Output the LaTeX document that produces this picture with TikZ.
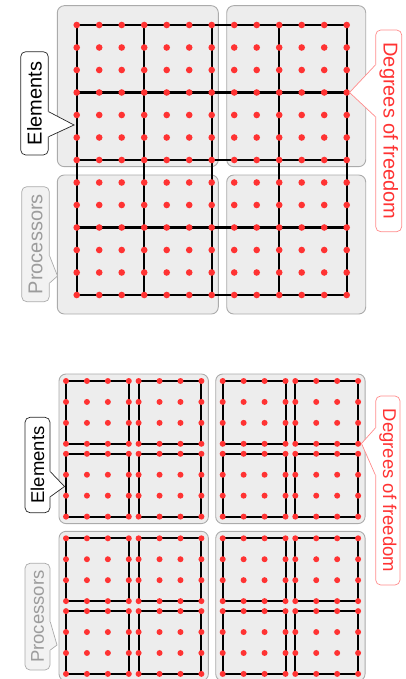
\documentclass[tikz,border=0pt]{standalone}
\usepackage{graphicx}
\usepackage{fontspec}
\setmainfont{Liberation Sans}
\usepackage{tikz}
\usetikzlibrary{calc}
\usepackage{xcolor}
\definecolor{procfill}{HTML}{EDEDED}
\definecolor{procline}{HTML}{ABABAB}
\definecolor{proctext}{HTML}{9C9C9C}
\definecolor{dofred}{HTML}{FF3333}
\definecolor{doflight}{HTML}{FF8C8C}

\newcommand{\calloutptr}[7]{%
  \fill[#6] ($(#1)+(#5,#2)$) -- ($(#1)+(0,#2)$) -- (#4) -- ($(#1)+(0,#3)$) -- ($(#1)+(#5,#3)$) -- cycle;
  \draw[#7, line width=0.7pt, line join=miter] ($(#1)+(0,#2)$) -- (#4) -- ($(#1)+(0,#3)$);
}

\begin{document}
\begin{tikzpicture}[
    x=1pt, y=-1pt,
    procBox/.style={fill=procfill, draw=procline, line width=0.9pt, rounded corners=7pt},
    mesh/.style={black, line width=2.2pt, line cap=rect},
    meshB/.style={black, line width=2pt, line cap=rect},
    dof/.style={fill=dofred},
    lblElem/.style={draw=black!85, fill=white, rounded corners=5pt, inner sep=0pt, line width=0.7pt},
    lblProc/.style={draw=procline, fill=procfill!70!white, text=proctext, rounded corners=5pt, inner sep=0pt, line width=0.7pt},
    lblDof/.style={draw=doflight, fill=white, text=dofred, rounded corners=5pt, inner sep=0pt, line width=0.7pt},
    bigTxt/.style={font=\fontsize{20}{24}\selectfont},
    smallTxt/.style={font=\fontsize{18.5}{22}\selectfont},
]
\useasboundingbox (0,0) rectangle (406,679);

\draw[procBox] (57.3,5.7) rectangle (218.3,166.7);
\draw[procBox] (226.7,5.7) rectangle (365.7,166.7);
\draw[procBox] (57.3,175) rectangle (218.3,314);
\draw[procBox] (226.7,175) rectangle (365.7,314);
\begin{scope}[shift={(76.7,25)}]
  \foreach \i in {0,3,...,12} {
    \draw[mesh] (\i*22.5,0) -- (\i*22.5,270);
    \draw[mesh] (0,\i*22.5) -- (270,\i*22.5);
  }
  \foreach \i in {0,...,12}
    \foreach \j in {0,...,12}
      \fill[dof] (\i*22.5,\j*22.5) circle[radius=3.3pt];
\end{scope}

\foreach \px/\py in {66/381, 222.7/381, 66/538.3, 222.7/538.3} {
  \draw[procBox] (\px-7,\py-7) rectangle (\px+142.4,\py+142.6);
}
\foreach \ex in {66,138.6,222.7,295.3} {
  \foreach \ey in {381,453.8,538.3,611.1} {
    \draw[meshB] (\ex,\ey) rectangle ++(62.8,62.8);
    \foreach \i in {0,...,3}
      \foreach \j in {0,...,3}
        \fill[dof] (\ex+\i*20.933,\ey+\j*20.933) circle[radius=3pt];
  }
}

\coordinate (elemTipA) at (74,125);
\coordinate (procTipA) at (57.5,276);
\coordinate (dofTipA) at (349.5,92.5);
\coordinate (elemTipB) at (64.5,486.5);
\coordinate (procTipB) at (57,645);
\coordinate (dofTipB) at (361.5,443.5);

\node[lblElem, bigTxt, minimum width=27.6pt, minimum height=103.3pt] (elemA) at (34.5,103.35) {\rotatebox{90}{Elements}};
\calloutptr{elemA.east}{8.35}{33.35}{elemTipA}{-2}{white}{black!85}
\node[lblProc, bigTxt, minimum width=27.6pt, minimum height=115pt] (procA) at (35.5,244.2) {\rotatebox{90}{Processors}};
\calloutptr{procA.east}{11.8}{38.8}{procTipA}{-2}{procfill!70!white}{procline}
\node[lblDof, bigTxt, minimum width=26pt, minimum height=201.7pt] (dofA) at (388.7,130.85) {\rotatebox{-90}{Degrees of freedom}};
\calloutptr{dofA.west}{-65.85}{-14.15}{dofTipA}{2}{white}{doflight}

\node[lblElem, smallTxt, minimum width=25pt, minimum height=95.4pt] (elemB) at (37.5,465) {\rotatebox{90}{Elements}};
\calloutptr{elemB.east}{6.7}{31.7}{elemTipB}{-2}{white}{black!85}
\node[lblProc, smallTxt, minimum width=25pt, minimum height=106.7pt] (procB) at (37.5,616.65) {\rotatebox{90}{Processors}};
\calloutptr{procB.east}{5.35}{33.35}{procTipB}{-2}{procfill!70!white}{procline}
\node[lblDof, smallTxt, minimum width=24.3pt, minimum height=189pt] (dofB) at (387.85,490.5) {\rotatebox{-90}{Degrees of freedom}};
\calloutptr{dofB.west}{-62.5}{-15.5}{dofTipB}{2}{white}{doflight}
\end{tikzpicture}
\end{document}
